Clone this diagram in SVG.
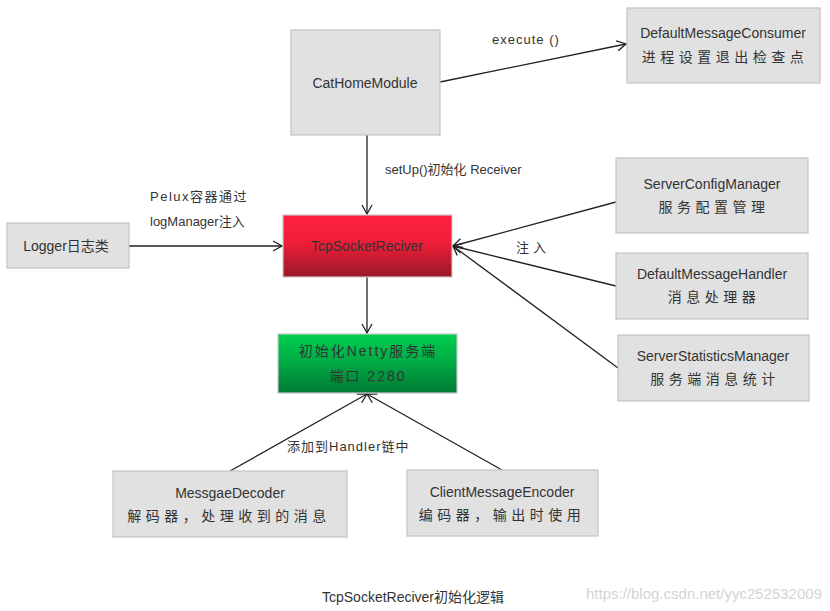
<svg xmlns="http://www.w3.org/2000/svg" width="830" height="611" viewBox="0 0 830 611">
<style>
.box{fill:#e1e1e1;stroke:#c4c4c4;stroke-width:1.2}
.t{font-family:"Liberation Sans","Noto Sans CJK SC",sans-serif;font-size:14px;fill:#333;text-anchor:middle}
.z{letter-spacing:4.5px}
.l{font-family:"Liberation Sans","Noto Sans CJK SC",sans-serif;font-size:13px;fill:#333}
.c{stroke:#222;stroke-width:1.3;fill:none;marker-end:url(#a)}
</style>
<defs>
<marker id="a" markerWidth="12" markerHeight="12" refX="10" refY="6" orient="auto" markerUnits="userSpaceOnUse">
<path d="M1,1 L10,6 L1,11" fill="none" stroke="#222" stroke-width="1.3"/>
</marker>
<linearGradient id="red" x1="0" y1="0" x2="0" y2="1">
<stop offset="0" stop-color="#ff2040"/><stop offset="0.45" stop-color="#ee1e38"/><stop offset="1" stop-color="#9a1828"/>
</linearGradient>
<linearGradient id="green" x1="0" y1="0" x2="0" y2="1">
<stop offset="0" stop-color="#00d050"/><stop offset="0.5" stop-color="#00a844"/><stop offset="1" stop-color="#007a34"/>
</linearGradient>
</defs>
<rect width="830" height="611" fill="#fff"/>
<g id="connectors">
<line class="c" x1="440" y1="82" x2="626" y2="44"/>
<line class="c" x1="367" y1="135" x2="367" y2="214"/>
<line class="c" x1="129" y1="246" x2="282" y2="246"/>
<line class="c" x1="616" y1="202" x2="453" y2="246"/>
<line class="c" x1="616" y1="286" x2="453" y2="246"/>
<line class="c" x1="618" y1="368" x2="453" y2="246"/>
<line class="c" x1="367" y1="277" x2="367" y2="333"/>
<line class="c" x1="230" y1="471" x2="367" y2="394"/>
<line class="c" x1="502" y1="470" x2="367" y2="394"/>
<text class="l" x="492" y="44" letter-spacing="1">execute ()</text>
<text class="l" x="385" y="174">setUp()初始化 Receiver</text>
<text class="l" x="150" y="201" letter-spacing="1.5">Pelux容器通过</text>
<text class="l" x="150" y="226">logManager注入</text>
<text class="l" x="516" y="252" letter-spacing="4">注入</text>
<text class="l" x="287" y="451" letter-spacing="1">添加到Handler链中</text>
</g>
<g id="CatHomeModule"><rect class="box" x="291" y="30" width="149" height="105"/><text class="t" x="365" y="88">CatHomeModule</text></g>
<g id="DefaultMessageConsumer"><rect class="box" x="627" y="8" width="193" height="75"/><text class="t" x="723" y="38">DefaultMessageConsumer</text><text class="t z" x="725" y="62">进程设置退出检查点</text></g>
<g id="TcpSocketReciver"><rect x="283" y="215" width="169" height="62" fill="url(#red)" stroke="#c8c8c8" stroke-width="1.2"/><text class="t" x="367" y="251">TcpSocketReciver</text></g>
<g id="Logger"><rect class="box" x="7" y="223" width="122" height="45"/><text class="t" x="66" y="251">Logger日志类</text></g>
<g id="ServerConfigManager"><rect class="box" x="616" y="158" width="192" height="75"/><text class="t" x="712" y="189">ServerConfigManager</text><text class="t z" x="714" y="212">服务配置管理</text></g>
<g id="DefaultMessageHandler"><rect class="box" x="616" y="253" width="192" height="66"/><text class="t" x="712" y="279">DefaultMessageHandler</text><text class="t z" x="714" y="302">消息处理器</text></g>
<g id="ServerStatisticsManager"><rect class="box" x="618" y="335" width="191" height="66"/><text class="t" x="713" y="361">ServerStatisticsManager</text><text class="t z" x="715" y="384">服务端消息统计</text></g>
<g id="Netty"><rect x="278" y="334" width="179" height="59" fill="url(#green)" stroke="#c8c8c8" stroke-width="1.2"/><text class="t" x="368" y="356" letter-spacing="2">初始化Netty服务端</text><text class="t" x="368" y="381" letter-spacing="2">端口 2280</text></g>
<g id="MessgaeDecoder"><rect class="box" x="113" y="471" width="234" height="66"/><text class="t" x="230" y="498">MessgaeDecoder</text><text class="t z" x="229" y="521">解码器，处理收到的消息</text></g>
<g id="ClientMessageEncoder"><rect class="box" x="407" y="470" width="191" height="66"/><text class="t" x="502" y="497">ClientMessageEncoder</text><text class="t z" x="502" y="520">编码器，输出时使用</text></g>
<text class="t" x="413" y="602">TcpSocketReciver初始化逻辑</text>
<text x="822" y="599" font-family="Liberation Sans, sans-serif" font-size="15" fill="#d4d4d4" text-anchor="end">https://blog.csdn.net/yyc252532009</text>
</svg>
